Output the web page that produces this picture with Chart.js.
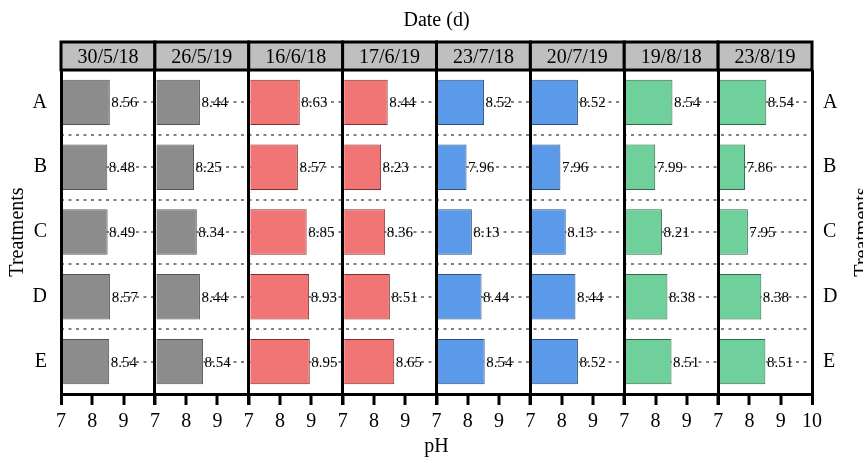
<!DOCTYPE html>
<html>
<head>
<meta charset="utf-8">
<script src="https://cdn.jsdelivr.net/npm/chart.js@4/dist/chart.umd.min.js"></script>
<style>
  html, body { margin: 0; padding: 0; background: #fff; }
  #wrap { width: 863px; height: 457px; }
</style>
</head>
<body>
<div id="wrap"><canvas id="chart" width="863" height="457"></canvas></div>
<script>
const treatments = ['A', 'B', 'C', 'D', 'E'];
const dates = ['30/5/18', '26/5/19', '16/6/18', '17/6/19', '23/7/18', '20/7/19', '19/8/18', '23/8/19'];
const xTicks = [7, 8, 9, 10];

// pH per treatment (A..E) for each sampling date
const ph_30_5_18 = [8.56, 8.48, 8.49, 8.57, 8.54];
const ph_26_5_19 = [8.44, 8.25, 8.34, 8.44, 8.54];
const ph_16_6_18 = [8.63, 8.57, 8.85, 8.93, 8.95];
const ph_17_6_19 = [8.44, 8.23, 8.36, 8.51, 8.65];
const ph_23_7_18 = [8.52, 7.96, 8.13, 8.44, 8.54];
const ph_20_7_19 = [8.52, 7.96, 8.13, 8.44, 8.52];
const ph_19_8_18 = [8.54, 7.99, 8.21, 8.38, 8.51];
const ph_23_8_19 = [8.54, 7.86, 7.95, 8.38, 8.51];
const phSeries = [ph_30_5_18, ph_26_5_19, ph_16_6_18, ph_17_6_19, ph_23_7_18, ph_20_7_19, ph_19_8_18, ph_23_8_19];

const fills = ['#8c8c8c', '#8c8c8c', '#f27575', '#f27575', '#5b9ae8', '#5b9ae8', '#6fd09b', '#6fd09b'];
const edges = ['#555555', '#555555', '#7a3030', '#7a3030', '#2b4f86', '#2b4f86', '#2f6b4a', '#2f6b4a'];

const FONT = "'Liberation Serif', 'DejaVu Serif', serif";
Chart.defaults.font.family = FONT;
Chart.defaults.color = '#000';

const last = dates.length - 1;

const datasets = phSeries.map((vals, i) => ({
    label: dates[i],
    data: vals,
    xAxisID: 'x' + i,
    yAxisID: 'y',
    base: xTicks[0],
    backgroundColor: fills[i],
    borderColor: edges[i],
    borderWidth: 1,
    grouped: false,
    categoryPercentage: 1,
    barPercentage: 0.7
}));

const scales = {
    y: {
        type: 'category',
        position: 'left',
        offset: true,
        afterFit: (s) => { s.width = 61; },
        grid: { offset: false, color: '#808080', lineWidth: 2, drawTicks: false },
        border: { display: false, dash: [3, 4.5] },
        ticks: { padding: 14, font: { size: 20 } },
        title: { display: true, text: 'Treatments', font: { size: 20 }, padding: { top: 6, bottom: 0 } }
    },
    y2: {
        type: 'category',
        position: 'right',
        labels: treatments,
        offset: true,
        afterFit: (s) => { s.width = 51; },
        grid: { offset: true, color: '#808080', lineWidth: 2, drawTicks: false },
        border: { display: false, dash: [3, 4.5] },
        ticks: { padding: 11, font: { size: 20 } }
    }
};

dates.forEach((d, i) => {
    scales['x' + i] = {
        type: 'linear',
        position: 'bottom',
        stack: 'panels',
        stackWeight: 1,
        min: xTicks[0],
        max: xTicks[xTicks.length - 1],
        afterFit: (s) => { s.height = 40; },
        afterBuildTicks: (s) => { s.ticks = xTicks.map(v => ({ value: v })); },
        ticks: {
            font: { size: 20 },
            padding: 5,
            maxRotation: 0,
            autoSkip: false,
            callback: (v) => (v === 10 && i !== last) ? '' : v
        },
        grid: {
            z: 1,
            color: '#000',
            lineWidth: (ctx) => (ctx.tick && (ctx.tick.value === 7 || (ctx.tick.value === 10 && i === last))) ? 3 : 0,
            tickWidth: 3,
            tickLength: 11,
            tickColor: '#000'
        },
        border: { display: true, color: '#000', width: 3, z: 1 }
    };
});

// strip headers above each panel + value labels next to the bars
const facetPlugin = {
    id: 'facets',
    afterDatasetsDraw(chart) {
        const ctx = chart.ctx;
        ctx.save();
        ctx.font = '15px ' + FONT;
        ctx.fillStyle = '#000';
        ctx.textAlign = 'left';
        ctx.textBaseline = 'middle';
        chart.data.datasets.forEach((ds, i) => {
            chart.getDatasetMeta(i).data.forEach((bar, j) => {
                ctx.fillText(ds.data[j].toFixed(2), bar.x + 1.5, bar.y + 1);
            });
        });
        ctx.restore();
    },
    afterDraw(chart) {
        const ctx = chart.ctx;
        const top = chart.chartArea.top;
        ctx.save();
        dates.forEach((d, i) => {
            const s = chart.scales['x' + i];
            ctx.fillStyle = '#bfbfbf';
            ctx.fillRect(s.left, top - 28, s.right - s.left, 28);
            ctx.strokeStyle = '#000';
            ctx.lineWidth = 3;
            ctx.strokeRect(s.left, top - 28, s.right - s.left, 28);
            ctx.fillStyle = '#000';
            ctx.font = '20px ' + FONT;
            ctx.textAlign = 'center';
            ctx.textBaseline = 'middle';
            ctx.fillText(d, (s.left + s.right) / 2, top - 12);
        });
        // mirrored axis title on the right edge
        ctx.translate(863, (chart.chartArea.top + chart.chartArea.bottom) / 2);
        ctx.rotate(-Math.PI / 2);
        ctx.font = '20px ' + FONT;
        ctx.textAlign = 'center';
        ctx.textBaseline = 'middle';
        ctx.fillText('Treatments', 0, 0);
        ctx.restore();
    }
};

new Chart(document.getElementById('chart'), {
    type: 'bar',
    data: { labels: treatments, datasets: datasets },
    options: {
        indexAxis: 'y',
        responsive: false,
        animation: false,
        layout: { padding: 0 },
        scales: scales,
        plugins: {
            legend: { display: false },
            tooltip: { enabled: false },
            title: {
                display: true,
                text: 'Date (d)',
                fullSize: false,
                color: '#000',
                font: { size: 20, weight: 'normal', lineHeight: 1.2 },
                padding: { top: 9, bottom: 37 }
            },
            subtitle: {
                display: true,
                text: 'pH',
                position: 'bottom',
                fullSize: false,
                color: '#000',
                font: { size: 20, weight: 'normal', lineHeight: 1.0 },
                padding: { top: 3, bottom: 0 }
            }
        }
    },
    plugins: [facetPlugin]
});
</script>
</body>
</html>
